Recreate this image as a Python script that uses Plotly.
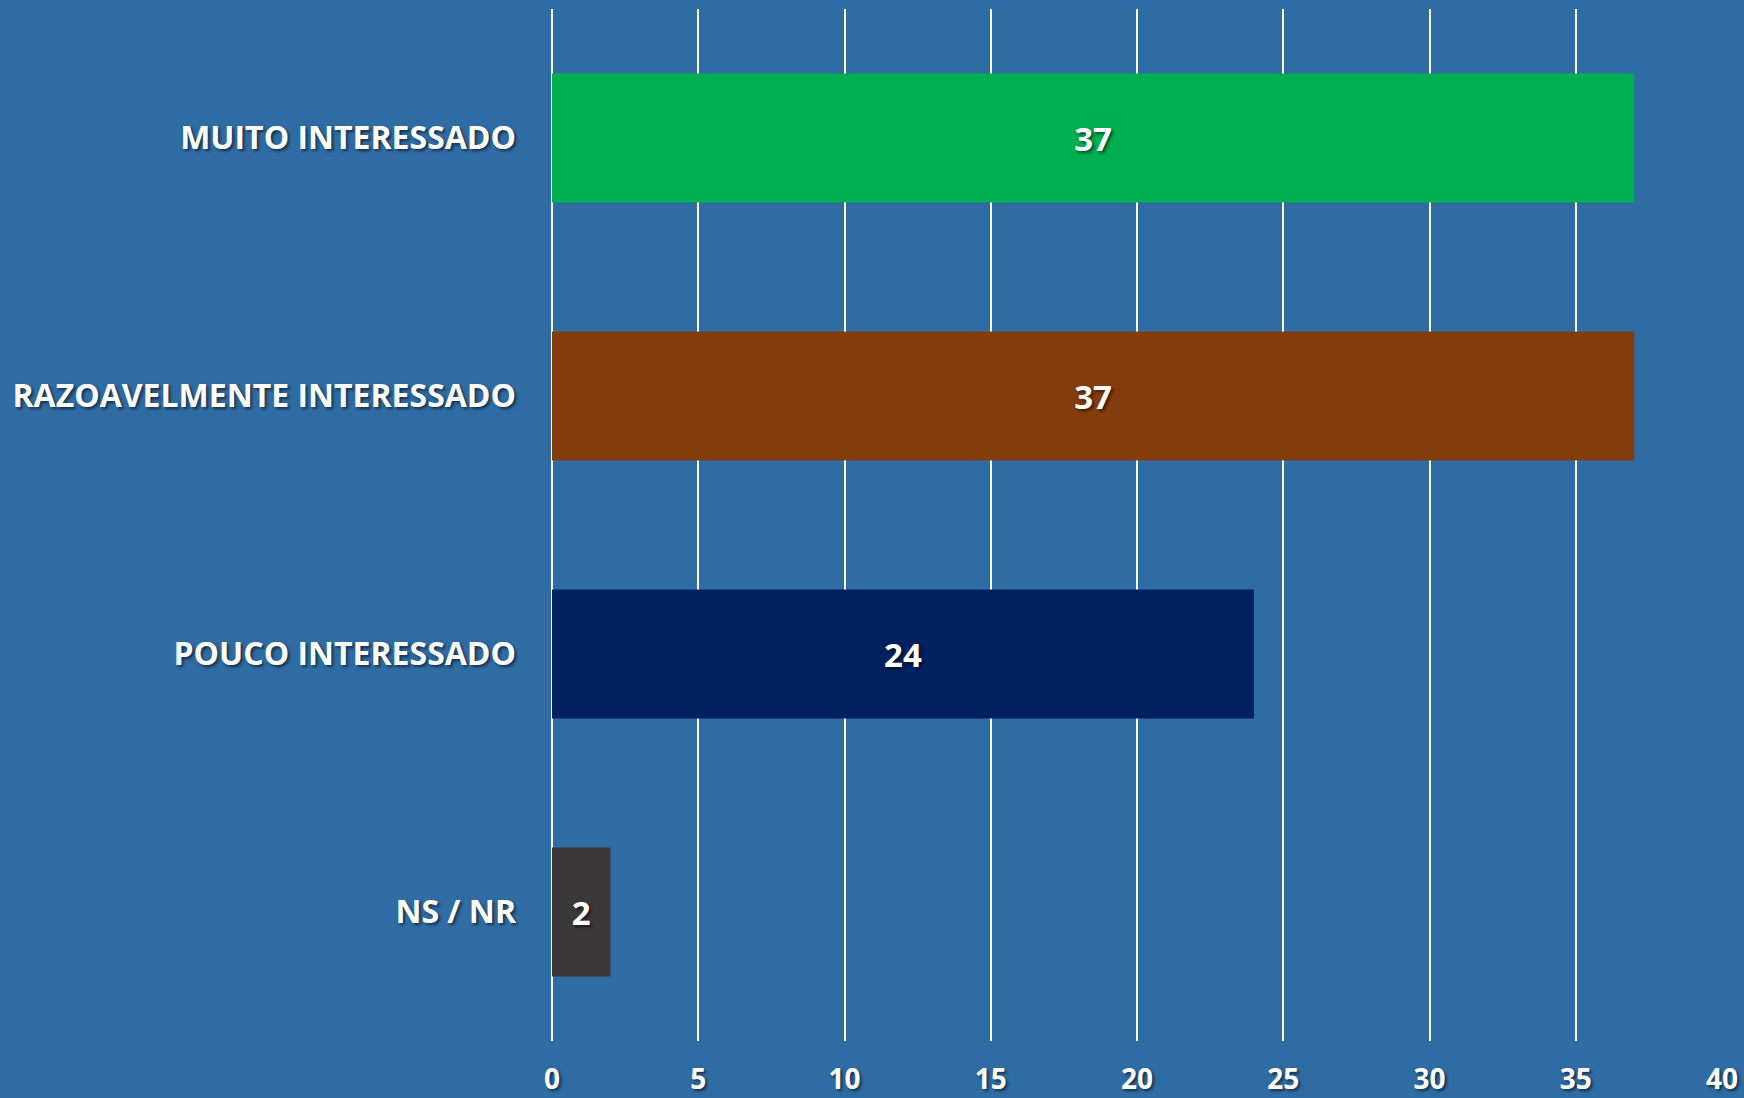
import plotly.graph_objects as go

categories = ["MUITO INTERESSADO", "RAZOAVELMENTE INTERESSADO", "POUCO INTERESSADO", "NS / NR"]
values = [37, 37, 24, 2]
bar_colors = ["#00AF50", "#843C0C", "#002060", "#3A3838"]
x_ticks = [0, 5, 10, 15, 20, 25, 30, 35, 40]

FONT = "Open Sans"
SHADOW = "2px 2px 3px rgba(0,0,0,0.55)"

fig = go.Figure(
    go.Bar(
        x=values,
        y=categories,
        orientation="h",
        marker=dict(color=bar_colors, line=dict(width=0)),
        width=0.5,
        text=[str(v) for v in values],
        textposition="inside",
        insidetextanchor="middle",
        textangle=0,
        textfont=dict(family=FONT, size=33, color="white", weight="bold", shadow=SHADOW),
        cliponaxis=False,
    )
)

fig.update_layout(
    width=1744,
    height=1098,
    margin=dict(l=552, r=22, t=9, b=57, autoexpand=False),
    paper_bgcolor="#2F6CA4",
    plot_bgcolor="rgba(0,0,0,0)",
    showlegend=False,
    bargap=0.5,
    uniformtext=dict(mode=False),
)

fig.update_xaxes(
    range=[0, 40],
    tickvals=x_ticks,
    ticktext=[str(t) for t in x_ticks],
    showgrid=True,
    gridcolor="white",
    gridwidth=2,
    zeroline=True,
    zerolinecolor="white",
    zerolinewidth=2,
    showline=False,
    ticks="",
    ticklabelstandoff=19,
    automargin=False,
    tickfont=dict(family=FONT, size=28, color="white", weight="bold", shadow=SHADOW),
    fixedrange=True,
)

fig.update_yaxes(
    categoryorder="array",
    categoryarray=categories,
    autorange="reversed",
    showgrid=False,
    zeroline=False,
    showline=False,
    ticks="",
    ticklabelstandoff=35,
    automargin=False,
    tickfont=dict(family=FONT, size=32, color="white", weight="bold", shadow=SHADOW),
    fixedrange=True,
)

fig.write_html(
    "out.html",
    config={"displayModeBar": False},
    post_script="document.body.style.margin='0';document.body.style.background='#2F6CA4';",
)
